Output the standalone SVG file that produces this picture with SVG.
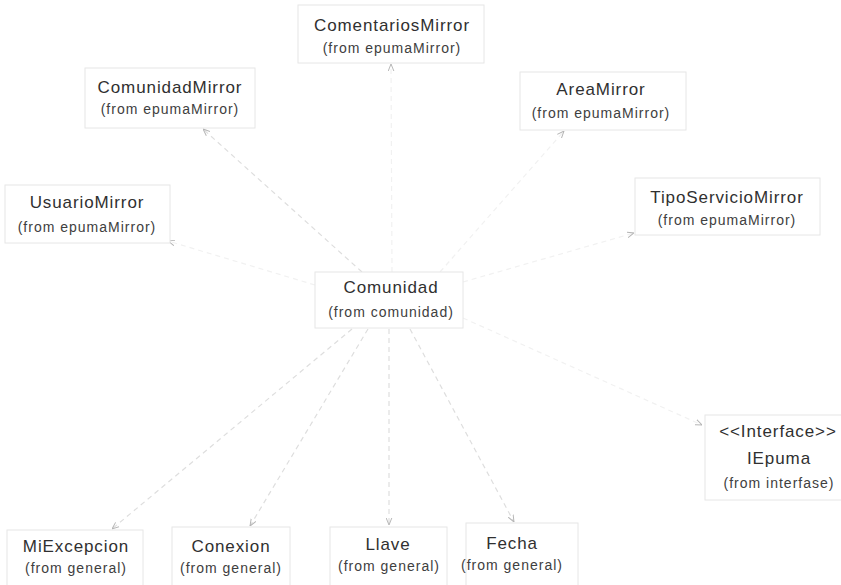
<svg xmlns="http://www.w3.org/2000/svg" width="841" height="585" viewBox="0 0 841 585">
  <style>
    .box { fill: #ffffff; stroke: #e6e6e6; stroke-width: 1; }
    .title { font-family: "Liberation Sans", Arial, sans-serif; font-size: 17px; letter-spacing: 0.9px; fill: #303030; text-anchor: middle; }
    .sub { font-family: "Liberation Sans", Arial, sans-serif; font-size: 14px; letter-spacing: 1px; fill: #404040; text-anchor: middle; }
    .dep { fill: none; stroke: #dedede; stroke-width: 1.2; stroke-dasharray: 5 4; marker-end: url(#open); }
    .faint { stroke: #f1f1f1; }
  </style>
  <defs>
    <marker id="open" viewBox="0 0 10 10" refX="10" refY="5" markerWidth="7" markerHeight="7" orient="auto" markerUnits="userSpaceOnUse">
      <path d="M0,1 L10,5 L0,9" fill="none" stroke="#b5b5b5" stroke-width="1.4"/>
    </marker>
  </defs>
  <rect width="841" height="585" fill="#ffffff"/>

  <!-- dependencies of Comunidad -->
  <g id="connectors">
    <line class="dep" x1="362" y1="272" x2="203" y2="129"/>
    <line class="dep faint" x1="392" y1="272" x2="391" y2="64"/>
    <line class="dep faint" x1="440" y1="272" x2="564" y2="131"/>
    <line class="dep faint" x1="315" y1="285" x2="168" y2="241"/>
    <line class="dep faint" x1="463" y1="282" x2="634" y2="233"/>
    <line class="dep faint" x1="463" y1="318" x2="702" y2="425"/>
    <line class="dep" x1="352" y1="329" x2="112" y2="529"/>
    <line class="dep" x1="368" y1="329" x2="250" y2="526"/>
    <line class="dep" x1="389" y1="329" x2="389" y2="525"/>
    <line class="dep" x1="410" y1="329" x2="514" y2="522"/>
  </g>

  <g id="ComentariosMirror">
    <rect class="box" x="298" y="5" width="186" height="58"/>
    <text class="title" x="392" y="31">ComentariosMirror</text>
    <text class="sub" x="392" y="53">(from epumaMirror)</text>
  </g>

  <g id="ComunidadMirror">
    <rect class="box" x="85" y="68" width="170" height="60"/>
    <text class="title" x="170" y="93">ComunidadMirror</text>
    <text class="sub" x="170" y="114">(from epumaMirror)</text>
  </g>

  <g id="AreaMirror">
    <rect class="box" x="520" y="72" width="166" height="58"/>
    <text class="title" x="601" y="95">AreaMirror</text>
    <text class="sub" x="601" y="118">(from epumaMirror)</text>
  </g>

  <g id="UsuarioMirror">
    <rect class="box" x="5" y="185" width="165" height="58"/>
    <text class="title" x="87" y="208">UsuarioMirror</text>
    <text class="sub" x="87" y="232">(from epumaMirror)</text>
  </g>

  <g id="TipoServicioMirror">
    <rect class="box" x="635" y="178" width="185" height="57"/>
    <text class="title" x="727" y="203">TipoServicioMirror</text>
    <text class="sub" x="727" y="225">(from epumaMirror)</text>
  </g>

  <g id="Comunidad">
    <rect class="box" x="315" y="272" width="148" height="56"/>
    <text class="title" x="391" y="293">Comunidad</text>
    <text class="sub" x="391" y="317">(from comunidad)</text>
  </g>

  <g id="IEpuma">
    <rect class="box" x="705" y="415" width="140" height="85"/>
    <text class="title" x="778" y="437">&lt;&lt;Interface&gt;&gt;</text>
    <text class="title" x="779" y="464">IEpuma</text>
    <text class="sub" x="779" y="488">(from interfase)</text>
  </g>

  <g id="MiExcepcion">
    <rect class="box" x="7" y="530" width="136" height="60"/>
    <text class="title" x="76" y="552">MiExcepcion</text>
    <text class="sub" x="76" y="573">(from general)</text>
  </g>

  <g id="Conexion">
    <rect class="box" x="172" y="527" width="118" height="63"/>
    <text class="title" x="231" y="552">Conexion</text>
    <text class="sub" x="231" y="573">(from general)</text>
  </g>

  <g id="Llave">
    <rect class="box" x="330" y="527" width="117" height="63"/>
    <text class="title" x="388" y="550">Llave</text>
    <text class="sub" x="389" y="571">(from general)</text>
  </g>

  <g id="Fecha">
    <rect class="box" x="466" y="523" width="112" height="67"/>
    <text class="title" x="512" y="549">Fecha</text>
    <text class="sub" x="512" y="570">(from general)</text>
  </g>
</svg>
